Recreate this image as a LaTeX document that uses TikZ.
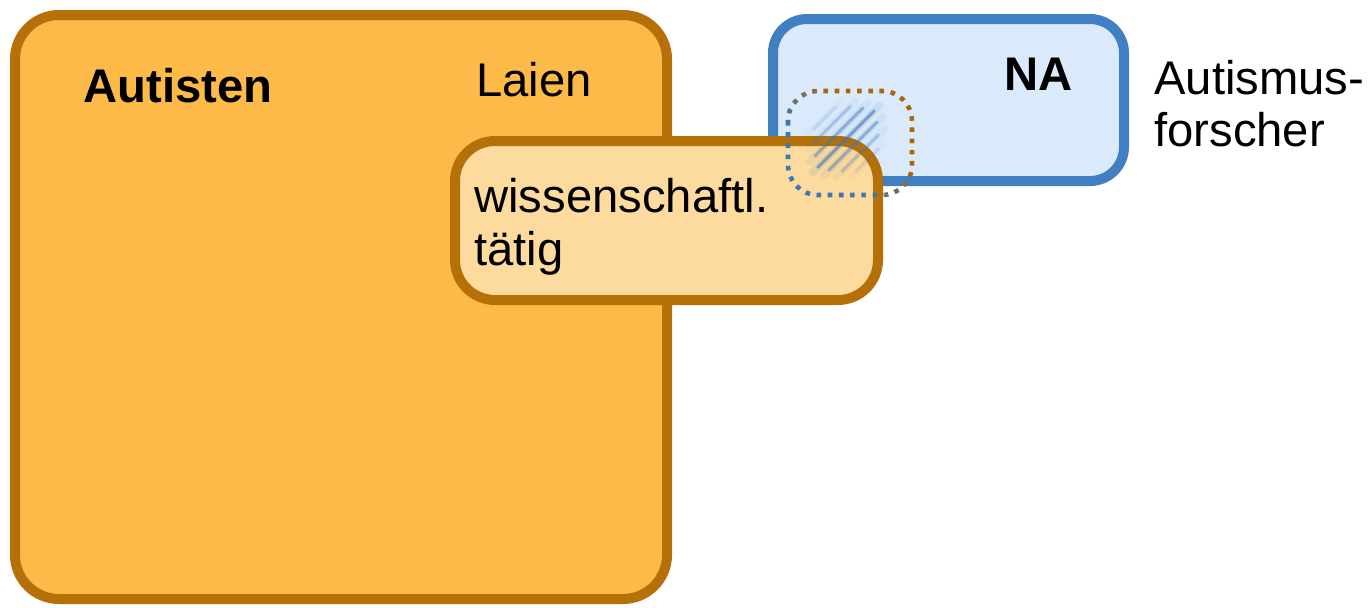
\documentclass[tikz,border=0pt]{standalone}
\usepackage{fontspec}
\setmainfont{Liberation Sans}
\usetikzlibrary{calc}
\definecolor{orfill}{RGB}{253,186,72}
\definecolor{orline}{RGB}{181,113,8}
\definecolor{smfill}{RGB}{253,218,158}
\definecolor{blfill}{RGB}{219,234,251}
\definecolor{blline}{RGB}{64,127,194}
\definecolor{dotbrown}{RGB}{168,104,10}
\definecolor{dotblue}{RGB}{60,120,185}
\begin{document}
\begin{tikzpicture}[x=0.5pt,y=-0.5pt,
  box/.style={line width=5pt},
  lbl/.style={anchor=base west,inner sep=0pt,font=\fontsize{23.6}{26}\selectfont},
  dotline/.style={line width=2.3pt,dash pattern=on 2.3pt off 3.3pt,rounded corners=15pt},
  hatch/.style={draw=dotblue,line cap=round}]
\useasboundingbox (0,0) rectangle (1372,607);
% big box
\draw[box,rounded corners=22pt,draw=orline,fill=orfill] (15,15) rectangle (667,599);
% blue box
\draw[box,rounded corners=17pt,draw=blline,fill=blfill] (773,19) rectangle (1124,181);
% small box
\draw[box,rounded corners=20pt,draw=orline,fill=smfill] (455,141) rectangle (878,300);
% hatching (soft diagonal strokes)
\foreach \o/\l/\op in {-30/16/0.15,-20/26/0.3,-10/34/0.45,0/40/0.6,10/34/0.45,20/26/0.3,30/16/0.15}{
  \draw[hatch,line width=4pt,opacity=0.18*\op] ($(846,139)+(0.7071*\o,0.7071*\o)+(-0.7071*\l-5,0.7071*\l+5)$) -- ($(846,139)+(0.7071*\o,0.7071*\o)+(0.7071*\l+5,-0.7071*\l-5)$);
  \draw[hatch,line width=1.6pt,opacity=\op] ($(846,139)+(0.7071*\o,0.7071*\o)+(-0.7071*\l,0.7071*\l)$) -- ($(846,139)+(0.7071*\o,0.7071*\o)+(0.7071*\l,-0.7071*\l)$);
}
% dotted rounded rect with colour blend
\foreach \a/\b/\c in {400/670/100,670/690/80,690/710/55,710/730/30,730/1000/0}{
  \begin{scope}
    \clip (\a+50,50) -- (\b+50,50) -- (\b+250,250) -- (\a+250,250) -- cycle;
    \draw[dotline,draw=dotblue!\c!dotbrown] (788,91) rectangle (912,195);
  \end{scope}
}
% texts
\node[lbl,font=\fontsize{23.6}{26}\selectfont\bfseries] (autisten) at (83,102) {Autisten};
\node[lbl] (laien) at (476,96) {Laien};
\node[lbl] (wiss) at (474,212) {wissenschaftl.};
\node[lbl] (taetig) at (474,265) {tätig};
\node[lbl,font=\fontsize{23.6}{26}\selectfont\bfseries] (na) at (1004,90) {NA};
\node[lbl] (autf1) at (1154,94) {Autismus-};
\node[lbl] (autf2) at (1154,146) {forscher};
\end{tikzpicture}
\end{document}
